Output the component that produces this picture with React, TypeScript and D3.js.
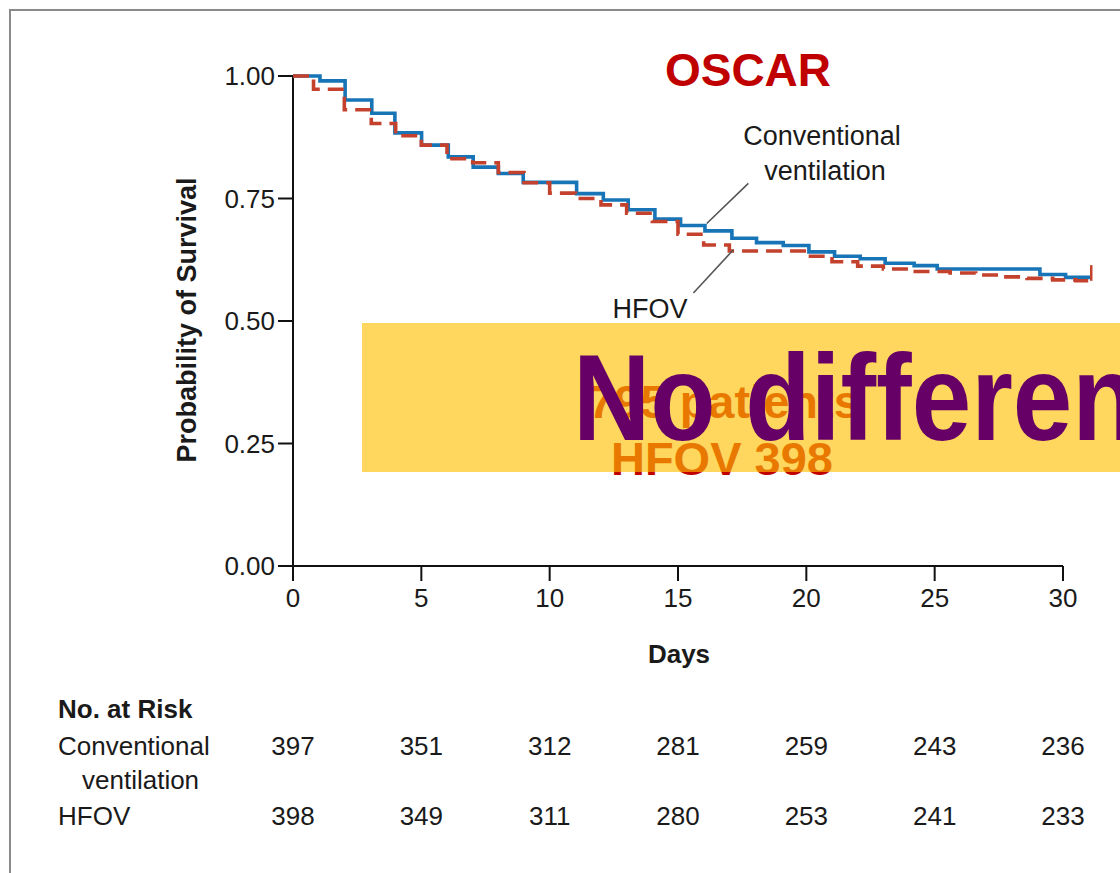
import React from "react";
import * as d3 from "d3";

// ---- Data ----
const convTimes = [0, 1.05, 2.03, 3.07, 3.97, 5.01, 6.05, 7.02, 8.0, 8.97, 11.05, 12.09, 13.06, 14.1, 15.1, 16.05, 17.1, 18.06, 19.1, 20.1, 21.1, 22.1, 23.07, 24.2, 25.1, 29.1, 30.1];
const convSurv = [1.0, 0.99, 0.951, 0.924, 0.884, 0.859, 0.835, 0.814, 0.801, 0.783, 0.76, 0.747, 0.727, 0.708, 0.695, 0.684, 0.669, 0.66, 0.654, 0.641, 0.632, 0.627, 0.618, 0.613, 0.606, 0.595, 0.589];
const hfovTimes = [0, 0.8, 2.0, 3.05, 4.0, 5.0, 6.0, 7.0, 8.0, 9.0, 10.0, 11.0, 12.0, 13.0, 14.0, 15.0, 16.0, 17.0, 20.0, 21.0, 22.0, 23.0, 24.0, 25.6, 26.6, 27.6, 28.6, 29.6, 30.5];
const hfovSurv = [1.0, 0.973, 0.931, 0.903, 0.878, 0.859, 0.831, 0.823, 0.803, 0.782, 0.761, 0.75, 0.737, 0.72, 0.703, 0.677, 0.655, 0.643, 0.632, 0.621, 0.612, 0.606, 0.601, 0.598, 0.594, 0.59, 0.587, 0.584, 0.582];
const endDay = 31.1;
const hfovEndTop = 0.614;

const xTicks = [0, 5, 10, 15, 20, 25, 30];
const yTicks = [0, 0.25, 0.5, 0.75, 1.0];
const yTickLabels = ["0.00", "0.25", "0.50", "0.75", "1.00"];

const riskConv = [397, 351, 312, 281, 259, 243, 236];
const riskHfov = [398, 349, 311, 280, 253, 241, 233];

const FONT = "'Liberation Sans', Arial, sans-serif";

export default function App() {
  const x = d3.scaleLinear().domain([0, 30]).range([293, 1063]);
  const y = d3.scaleLinear().domain([0, 1]).range([566, 76]);

  const line = d3
    .line<[number, number]>()
    .x((d) => x(d[0]))
    .y((d) => y(d[1]))
    .curve(d3.curveStepAfter);

  const convPts: [number, number][] = convTimes.map((t, i) => [t, convSurv[i]]);
  convPts.push([endDay, convSurv[convSurv.length - 1]]);
  const hfovPts: [number, number][] = hfovTimes.map((t, i) => [t, hfovSurv[i]]);
  hfovPts.push([endDay, hfovSurv[hfovSurv.length - 1]]);

  const blue = "#1774b6";
  const red = "#c4412d";
  const textCol = "#1a1a1a";

  return (
    <svg
      width={1120}
      height={873}
      style={{ position: "absolute", left: 0, top: 0, display: "block", background: "#fff" }}
      fontFamily={FONT}
    >
      <rect x={0} y={0} width={1120} height={873} fill="#fff" />
      {/* frame */}
      <rect x={10} y={10} width={1300} height={1000} fill="none" stroke="#8a8a8a" strokeWidth={2} />

      {/* title */}
      <text x={748} y={86} textAnchor="middle" fontSize={46} fontWeight="bold" fill="#c00000">
        OSCAR
      </text>

      {/* axes */}
      <line x1={x(0)} y1={y(1)} x2={x(0)} y2={y(0) + 15} stroke="#111" strokeWidth={2} />
      <line x1={x(0) - 15} y1={y(0)} x2={x(30)} y2={y(0)} stroke="#111" strokeWidth={2} />
      {yTicks.map((t, i) => (
        <g key={"yt" + i}>
          <line x1={x(0) - 15} x2={x(0)} y1={y(t)} y2={y(t)} stroke="#111" strokeWidth={2} />
          <text x={x(0) - 18} y={y(t) + 9} textAnchor="end" fontSize={26} fill={textCol}>
            {yTickLabels[i]}
          </text>
        </g>
      ))}
      {xTicks.map((t) => (
        <g key={"xt" + t}>
          <line x1={x(t)} x2={x(t)} y1={y(0)} y2={y(0) + 15} stroke="#111" strokeWidth={2} />
          <text x={x(t)} y={607} textAnchor="middle" fontSize={26} fill={textCol}>
            {t}
          </text>
        </g>
      ))}
      <text x={679} y={663} textAnchor="middle" fontSize={26} fontWeight="bold" fill={textCol}>
        Days
      </text>
      <text
        transform="translate(196,320) rotate(-90)"
        textAnchor="middle"
        fontSize={27}
        fontWeight="bold"
        fill={textCol}
      >
        Probability of Survival
      </text>

      {/* curves */}
      <path d={line(convPts) || ""} fill="none" stroke={blue} strokeWidth={3.6} />
      <path d={line(hfovPts) || ""} fill="none" stroke={red} strokeWidth={3.6} strokeDasharray="16,8" />
      <line
        x1={x(endDay)}
        x2={x(endDay)}
        y1={y(hfovSurv[hfovSurv.length - 1])}
        y2={y(hfovEndTop)}
        stroke={red}
        strokeWidth={2.5}
      />

      {/* annotations */}
      <line x1={x(16.12)} y1={y(0.699)} x2={x(17.74)} y2={y(0.781)} stroke="#555" strokeWidth={1.6} />
      <line x1={x(17.15)} y1={y(0.645)} x2={x(15.6)} y2={y(0.557)} stroke="#555" strokeWidth={1.6} />
      <text x={822} y={145} textAnchor="middle" fontSize={27} fill={textCol}>
        Conventional
      </text>
      <text x={825} y={180} textAnchor="middle" fontSize={27} fill={textCol}>
        ventilation
      </text>
      <text x={650} y={318} textAnchor="middle" fontSize={27} fill={textCol}>
        HFOV
      </text>

      {/* underlying red text */}
      <text x={724} y={418} textAnchor="middle" fontSize={47} fontWeight="bold" fill="#c00000">
        795 patients
      </text>
      <text x={722} y={475} textAnchor="middle" fontSize={47} fontWeight="bold" fill="#c00000">
        HFOV 398
      </text>

      {/* yellow overlay box */}
      <rect x={362} y={323} width={800} height={149} fill="#ffbe00" opacity={0.63} />
      <text
        transform="translate(573,440) scale(0.87,1)"
        fontSize={123}
        fontWeight="bold"
        fill="#660066"
      >
        No difference
      </text>

      {/* risk table */}
      <text x={58} y={718} fontSize={26} fontWeight="bold" fill={textCol}>
        No. at Risk
      </text>
      <text x={58} y={755} fontSize={26} fill={textCol}>
        Conventional
      </text>
      <text x={82} y={789} fontSize={26} fill={textCol}>
        ventilation
      </text>
      <text x={58} y={825} fontSize={26} fill={textCol}>
        HFOV
      </text>
      {riskConv.map((v, i) => (
        <text key={"rc" + i} x={x(xTicks[i])} y={755} textAnchor="middle" fontSize={26} fill={textCol}>
          {v}
        </text>
      ))}
      {riskHfov.map((v, i) => (
        <text key={"rh" + i} x={x(xTicks[i])} y={825} textAnchor="middle" fontSize={26} fill={textCol}>
          {v}
        </text>
      ))}
    </svg>
  );
}
